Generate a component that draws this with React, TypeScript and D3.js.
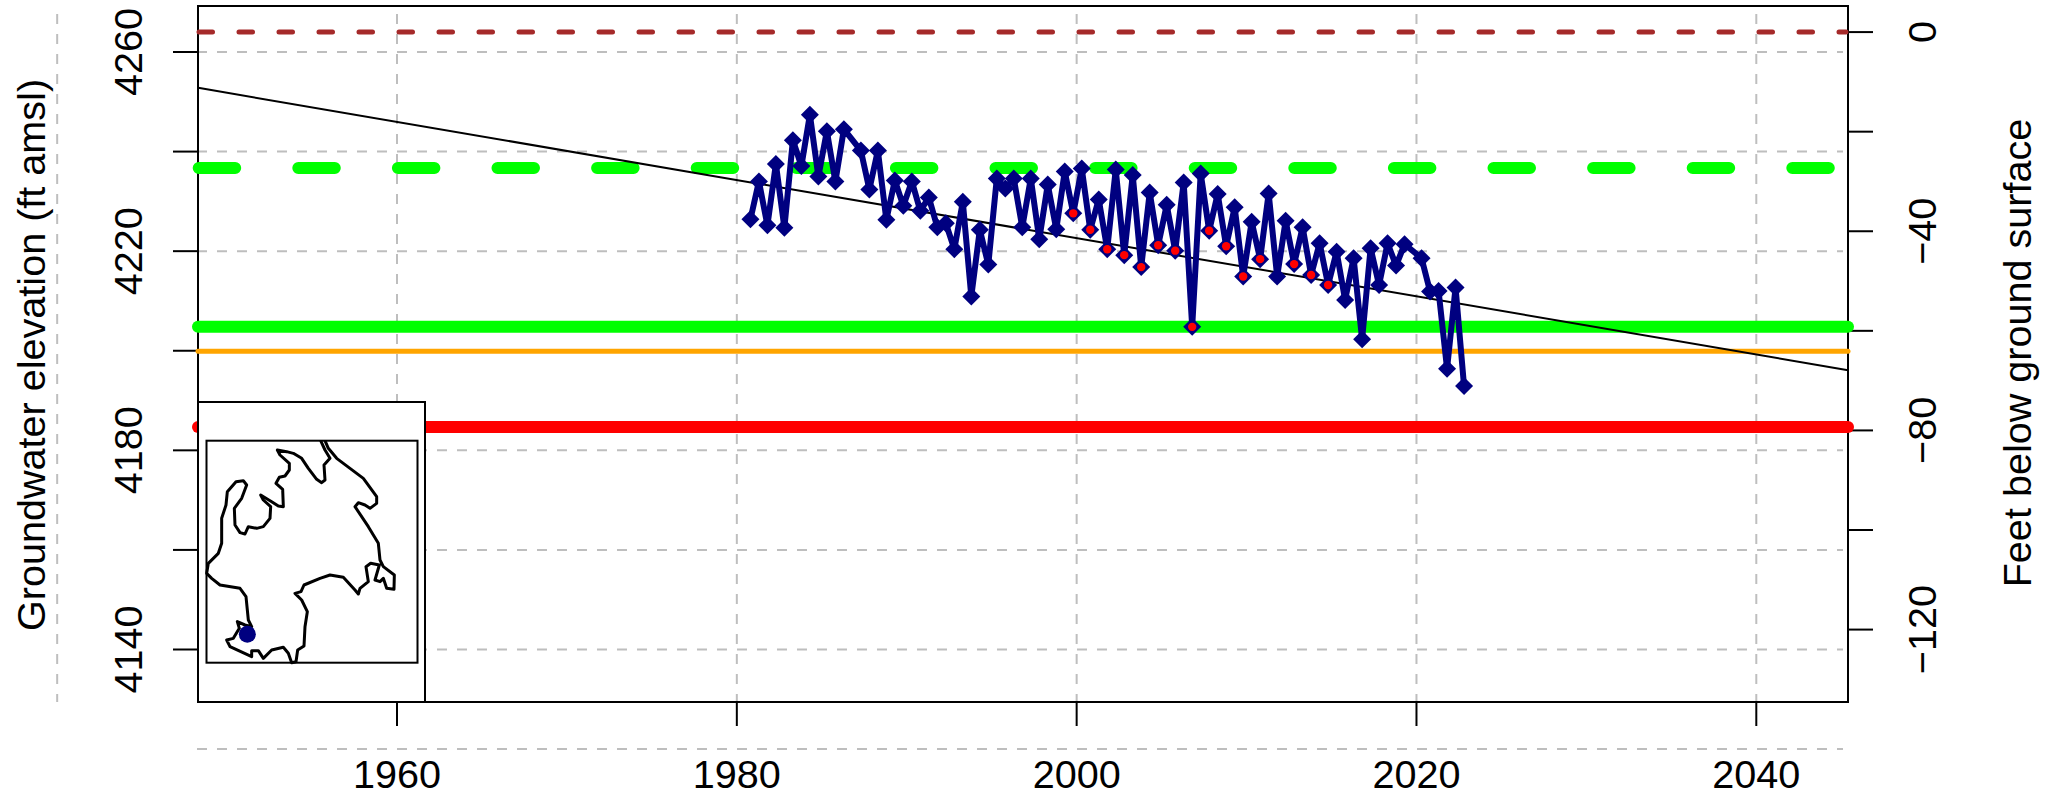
import React from "react";
import * as d3 from "d3";

const W = 2056, H = 798;
const years = [1980.8,1981.3,1981.8,1982.3,1982.8,1983.3,1983.8,1984.3,1984.8,1985.3,1985.8,1986.3,1987.3,1987.8,1988.3,1988.8,1989.3,1989.8,1990.3,1990.8,1991.3,1991.8,1992.3,1992.8,1993.3,1993.8,1994.3,1994.8,1995.3,1995.8,1996.3,1996.8,1997.3,1997.8,1998.3,1998.8,1999.3,1999.8,2000.3,2000.8,2001.3,2001.8,2002.3,2002.8,2003.3,2003.8,2004.3,2004.8,2005.3,2005.8,2006.3,2006.8,2007.3,2007.8,2008.3,2008.8,2009.3,2009.8,2010.3,2010.8,2011.3,2011.8,2012.3,2012.8,2013.3,2013.8,2014.3,2014.8,2015.3,2015.8,2016.3,2016.8,2017.3,2017.8,2018.3,2018.8,2019.3,2020.3,2020.8,2021.3,2021.8,2022.3,2022.8];
const elevations = [4226.4,4234.0,4225.2,4237.5,4224.7,4242.3,4237.1,4247.4,4235.0,4244.1,4234.0,4244.5,4240.2,4232.4,4240.2,4226.3,4234.2,4229.1,4234.0,4228.1,4230.8,4224.8,4225.6,4220.4,4229.9,4210.9,4224.3,4217.3,4234.6,4232.6,4234.6,4224.8,4234.6,4222.4,4233.4,4224.4,4236.0,4227.6,4236.6,4224.3,4230.4,4220.4,4236.4,4219.2,4235.3,4216.8,4231.8,4221.2,4229.3,4220.1,4233.8,4204.8,4235.6,4224.1,4231.5,4221.0,4228.8,4214.9,4225.9,4218.4,4231.6,4214.9,4226.1,4217.4,4224.8,4215.2,4221.6,4213.2,4219.9,4210.2,4218.6,4202.3,4220.6,4213.2,4221.6,4217.1,4221.4,4218.6,4211.9,4212.0,4196.4,4212.7,4192.9];
const redYears = [1999.8,2000.8,2001.8,2002.8,2003.8,2004.8,2005.8,2006.8,2007.8,2008.8,2009.8,2010.8,2012.8,2013.8,2014.8];
const xTicks = [1960,1980,2000,2020,2040];
const xGrid = [1940,1960,1980,2000,2020,2040];
const leftTicks = [4140,4160,4180,4200,4220,4240,4260];
const leftLabels = [4140,4180,4220,4260];
const rightTicks = [0,-20,-40,-60,-80,-100,-120];
const rightLabels = [0,-40,-80,-120];
const hGrid = [4120,4140,4160,4180,4200,4220,4240,4260];
const landSurface = 4264;
const greenDashedLevel = 4236.7;
const greenSolidLevel = 4204.8;
const orangeLevel = 4199.9;
const redLevel = 4184.7;
const trendYears = [1948.3,2045.4];
const trendValues = [4252.8,4196.1];
const mapOutline: [number,number][] = [[962,152],[975,180],[990,205],[972,225],[975,270],[965,278],[950,268],[925,235],[905,205],[880,190],[860,185],[832,180],[840,195],[868,220],[868,240],[855,258],[838,262],[828,280],[848,298],[850,350],[835,348],[815,335],[782,315],[790,330],[812,350],[810,385],[790,410],[770,415],[745,410],[735,432],[720,428],[705,405],[703,355],[725,325],[740,285],[730,272],[708,275],[682,305],[678,345],[665,385],[665,460],[655,490],[625,520],[620,550],[635,565],[660,585],[720,595],[738,620],[745,690],[755,710],[735,705],[712,695],[718,715],[700,745],[680,750],[690,770],[755,800],[755,782],[775,782],[790,805],[815,780],[850,772],[865,790],[875,818],[888,815],[893,780],[912,768],[915,710],[922,665],[905,630],[885,610],[903,605],[912,585],[960,565],[990,555],[1030,562],[1065,600],[1075,612],[1080,595],[1105,575],[1098,530],[1112,520],[1138,525],[1125,570],[1140,575],[1150,565],[1160,595],[1182,598],[1183,555],[1150,530],[1140,510],[1135,460],[1105,410],[1065,350],[1075,338],[1095,345],[1110,355],[1130,340],[1130,320],[1090,265],[1050,235],[1010,205],[985,175],[975,152]];
const wellLocation: [number,number] = [742,733];

const FONT = "Liberation Sans, Arial, sans-serif";
const x = d3.scaleLinear().domain([1960,2040]).range([397,1756.3]);
const y = d3.scaleLinear().domain([4260,4140]).range([52,649.5]);
const yDepth = d3.scaleLinear().domain([0,-120]).range([y(landSurface),y(landSurface-120)]);
const mx = d3.scaleLinear().domain([0,3]).range([0,1]);
const my = d3.scaleLinear().domain([1170,0]).range([780,390]);
const L = 198, R = 1848, T = 6, B = 702;
const FS = 39.6;

export default function App() {
  const line = d3.line<number>().x((_, i) => x(years[i])).y(d => y(d));
  const trend = d3.line<number>().x((_, i) => x(trendYears[i])).y(d => y(d));
  const map = d3.line<[number,number]>().x(d => mx(d[0])).y(d => my(d[1]));
  const grey = "#bebebe";
  return (
    <svg width={W} height={H} style={{position:"absolute",left:0,top:0,background:"#fff"}} fontFamily={FONT}>
      {hGrid.map(v => <line key={v} x1={197} x2={1843} y1={y(v)} y2={y(v)} stroke={grey} strokeWidth={2} strokeDasharray="10 10"/>)}
      {xGrid.map(v => <line key={v} x1={x(v)} x2={x(v)} y1={14} y2={B} stroke={grey} strokeWidth={2} strokeDasharray="10 10"/>)}

      <rect x={L} y={T} width={R-L} height={B-T} fill="none" stroke="#000" strokeWidth={2}/>
      {leftTicks.map(v => <line key={v} x1={173} x2={L} y1={y(v)} y2={y(v)} stroke="#000" strokeWidth={2}/>)}
      {rightTicks.map(v => <line key={v} x1={R} x2={1873} y1={yDepth(v)} y2={yDepth(v)} stroke="#000" strokeWidth={2}/>)}
      {xTicks.map(v => <line key={v} x1={x(v)} x2={x(v)} y1={B} y2={726} stroke="#000" strokeWidth={2}/>)}

      <line x1={199} x2={1846} y1={y(landSurface)} y2={y(landSurface)} stroke="brown" strokeWidth={5} strokeDasharray="13.5 26.5" strokeLinecap="round"/>
      <line x1={198.7} x2={1848} y1={y(greenDashedLevel)} y2={y(greenDashedLevel)} stroke="#00ff00" strokeWidth={12} strokeDasharray="36.5 63.1" strokeLinecap="round"/>
      <line x1={L} x2={R} y1={y(greenSolidLevel)} y2={y(greenSolidLevel)} stroke="#00ff00" strokeWidth={12} strokeLinecap="round"/>
      <line x1={L} x2={R} y1={y(orangeLevel)} y2={y(orangeLevel)} stroke="orange" strokeWidth={5} strokeLinecap="round"/>
      <line x1={L} x2={R} y1={y(redLevel)} y2={y(redLevel)} stroke="red" strokeWidth={12} strokeLinecap="round"/>

      <path d={trend(trendValues)!} fill="none" stroke="#000" strokeWidth={2}/>
      <path d={line(elevations)!} fill="none" stroke="#000080" strokeWidth={6} strokeLinejoin="round"/>
      {elevations.map((v,i) => {
        const px = x(years[i]), py = y(v), r = 9;
        return <path key={i} d={`M${px},${py-r}L${px+r},${py}L${px},${py+r}L${px-r},${py}Z`} fill="#000080"/>;
      })}
      {redYears.map(yr => {
        const i = years.indexOf(yr);
        return <circle key={yr} cx={x(yr)} cy={y(elevations[i])} r={4.2} fill="red"/>;
      })}

      {leftLabels.map(v => <text key={v} transform={`translate(142,${y(v)}) rotate(-90)`} textAnchor="middle" fontSize={FS}>{v}</text>)}
      {rightLabels.map(v => <text key={v} transform={`translate(1936,${yDepth(v)}) rotate(-90)`} textAnchor="middle" fontSize={FS}>{v < 0 ? `\u2212${-v}` : v}</text>)}
      {xTicks.map(v => <text key={v} x={x(v)} y={788} textAnchor="middle" fontSize={FS}>{v}</text>)}

      <text transform="translate(45,355) rotate(-90)" textAnchor="middle" fontSize={FS}>Groundwater elevation (ft amsl)</text>
      <text transform="translate(2031,353) rotate(-90)" textAnchor="middle" fontSize={FS}>Feet below ground surface</text>

      <rect x={L} y={402} width={227} height={300} fill="#fff" stroke="#000" strokeWidth={2}/>
      <rect x={206.5} y={440.7} width={211} height={222} fill="#fff" stroke="#000" strokeWidth={2}/>
      <path d={map(mapOutline)!} fill="none" stroke="#000" strokeWidth={3} strokeLinejoin="round"/>
      <circle cx={mx(wellLocation[0])} cy={my(wellLocation[1])} r={8.5} fill="#000080"/>
    </svg>
  );
}
